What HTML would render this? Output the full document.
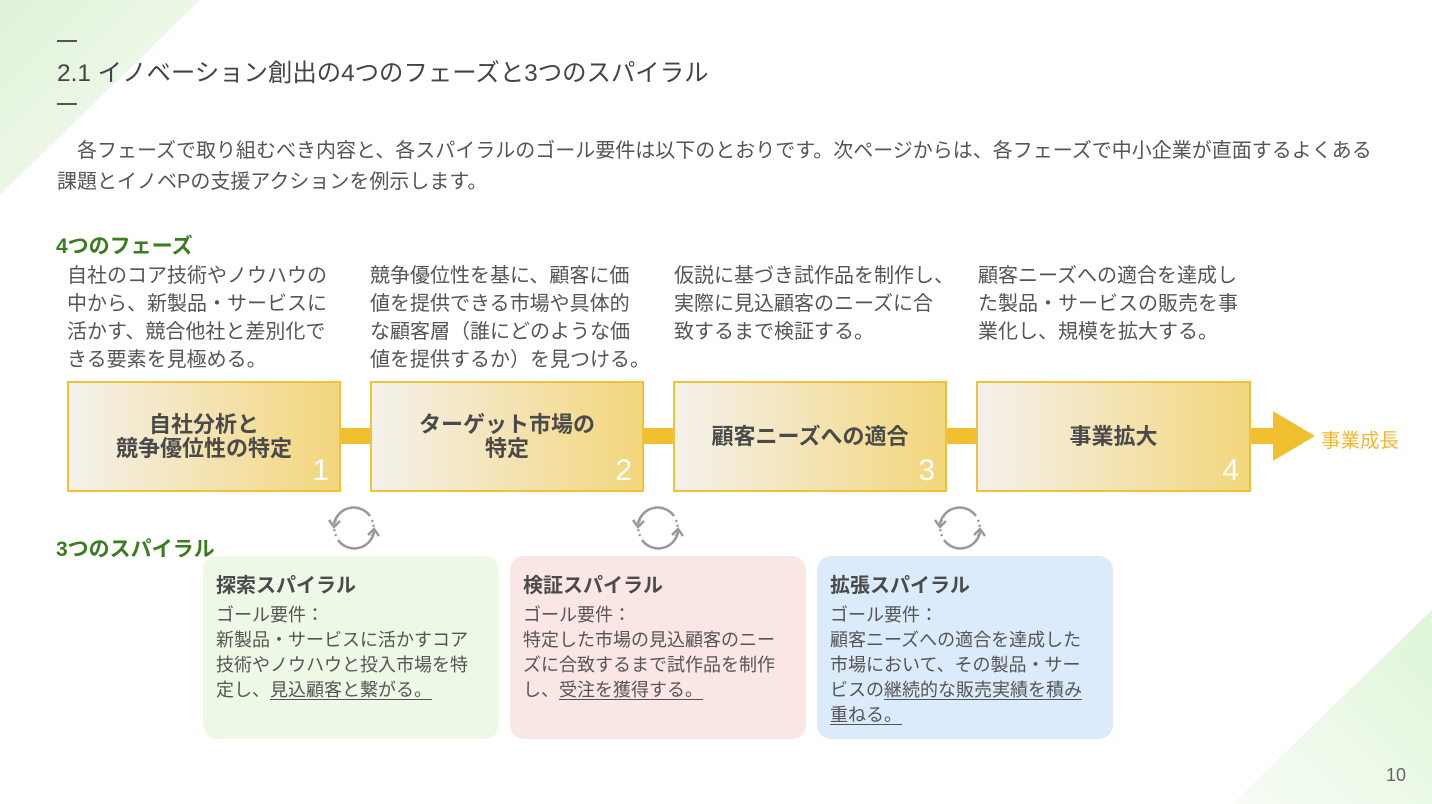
<!DOCTYPE html>
<html><head><meta charset="utf-8"><style>
*{margin:0;padding:0;box-sizing:border-box}
body{width:1432px;height:804px;position:relative;overflow:hidden;background:#fff;font-family:"Liberation Sans","Noto Sans CJK JP",sans-serif;color:#555}
.a{position:absolute;white-space:nowrap}
.desc{font-size:20px;line-height:28px;color:#555}
.box{position:absolute;top:381px;height:111px;border:2px solid #f0c238;background:linear-gradient(90deg,#f4f1ec,#f3d67c);display:flex;align-items:center;justify-content:center;text-align:center;font-weight:bold;font-size:22px;line-height:24px;color:#4a4a4a}
.box .n{position:absolute;right:10px;bottom:4px;font-size:30px;font-weight:normal;color:#fff;line-height:30px}
.bar{position:absolute;top:428px;height:16px;background:#f0c030}
.sp{position:absolute;top:556px;height:183px;width:296px;border-radius:14px;padding:17px 13px}
.sp h3{font-size:20px;line-height:26px;color:#4a4a4a;margin-bottom:4px}
.sp p{font-size:18px;line-height:25px;color:#555}
.sp u{text-decoration:underline;text-underline-offset:3px}
.g{color:#3a7d1e;font-weight:bold;font-size:21px}
</style></head><body>
<svg class="a" style="left:0;top:0" width="1432" height="804">
<defs><linearGradient id="tl" x1="0" y1="0" x2="1" y2="1"><stop offset="0" stop-color="#dff3d8"/><stop offset="1" stop-color="#f7fcf5"/></linearGradient>
<linearGradient id="br" x1="1" y1="0" x2="0" y2="1"><stop offset="0" stop-color="#ddf5d6"/><stop offset="1" stop-color="#f8fdf6"/></linearGradient></defs>
<polygon points="0,0 200,0 0,195" fill="url(#tl)"/>
<polygon points="1432,610 1432,804 1232,804" fill="url(#br)"/>
</svg>
<div class="a" style="left:57px;top:40px;width:20px;height:2px;background:#555"></div>
<div class="a" style="left:57px;top:54px;font-size:24.4px;color:#444">2.1 イノベーション創出の4つのフェーズと3つのスパイラル</div>
<div class="a" style="left:57px;top:103px;width:20px;height:2px;background:#555"></div>
<div class="a" style="left:57px;top:136px;font-size:20px;line-height:31px;color:#555">　各フェーズで取り組むべき内容と、各スパイラルのゴール要件は以下のとおりです。次ページからは、各フェーズで中小企業が直面するよくある<br>課題とイノベPの支援アクションを例示します。</div>
<div class="a g" style="left:56px;top:230px">4つのフェーズ</div>
<div class="a desc" style="left:67px;top:262px">自社のコア技術やノウハウの<br>中から、新製品・サービスに<br>活かす、競合他社と差別化で<br>きる要素を見極める。</div>
<div class="a desc" style="left:370px;top:262px">競争優位性を基に、顧客に価<br>値を提供できる市場や具体的<br>な顧客層（誰にどのような価<br>値を提供するか）を見つける。</div>
<div class="a desc" style="left:674px;top:262px">仮説に基づき試作品を制作し、<br>実際に見込顧客のニーズに合<br>致するまで検証する。</div>
<div class="a desc" style="left:978px;top:262px">顧客ニーズへの適合を達成し<br>た製品・サービスの販売を事<br>業化し、規模を拡大する。</div>
<div class="bar" style="left:340px;width:30px"></div>
<div class="bar" style="left:643px;width:30px"></div>
<div class="bar" style="left:946px;width:30px"></div>
<div class="bar" style="left:1250px;width:26px"></div>
<svg class="a" style="left:1270px;top:405px" width="50" height="62"><polygon points="3,6 45,31 3,56" fill="#f0c030"/></svg>
<div class="a" style="left:1321px;top:424px;font-size:19.5px;color:#f0b830">事業成長</div>
<div class="box" style="left:67px;width:274px">自社分析と<br>競争優位性の特定<span class="n">1</span></div>
<div class="box" style="left:370px;width:274px">ターゲット市場の<br>特定<span class="n">2</span></div>
<div class="box" style="left:673px;width:274px">顧客ニーズへの適合<span class="n">3</span></div>
<div class="box" style="left:976px;width:275px">事業拡大<span class="n">4</span></div>
<svg class="a" style="left:0;top:0" width="1432" height="804">
<g fill="none" stroke="#999" stroke-width="2.5">
<g id="c1" transform="translate(354,528)">
<path d="M-20,-4 A20,20 0 0 1 16,-12" /><path d="M18,-8 A20,20 0 0 1 16,12" stroke-dasharray="2 3"/>
<path d="M20,4 A20,20 0 0 1 -16,12"/><path d="M-18,8 A20,20 0 0 1 -16,-12" stroke-dasharray="2 3"/>
<polyline points="-25,-8 -20,-1 -14,-7"/><polyline points="25,8 20,1 14,7"/>
</g>
<use href="#c1" x="304"/><use href="#c1" x="606"/>
</g></svg>
<div class="a g" style="left:56px;top:533px">3つのスパイラル</div>
<div class="sp" style="left:203px;background:#eef8e6"><h3>探索スパイラル</h3><p>ゴール要件：<br>新製品・サービスに活かすコア<br>技術やノウハウと投入市場を特<br>定し、<u>見込顧客と繋がる。</u></p></div>
<div class="sp" style="left:510px;background:#fbe6e6"><h3>検証スパイラル</h3><p>ゴール要件：<br>特定した市場の見込顧客のニー<br>ズに合致するまで試作品を制作<br>し、<u>受注を獲得する。</u></p></div>
<div class="sp" style="left:817px;background:#dcebfb"><h3>拡張スパイラル</h3><p>ゴール要件：<br>顧客ニーズへの適合を達成した<br>市場において、その製品・サー<br>ビスの<u>継続的な販売実績を積み<br>重ねる。</u></p></div>
<div class="a" style="left:1386px;top:765px;font-size:18px;color:#666">10</div>
</body></html>
